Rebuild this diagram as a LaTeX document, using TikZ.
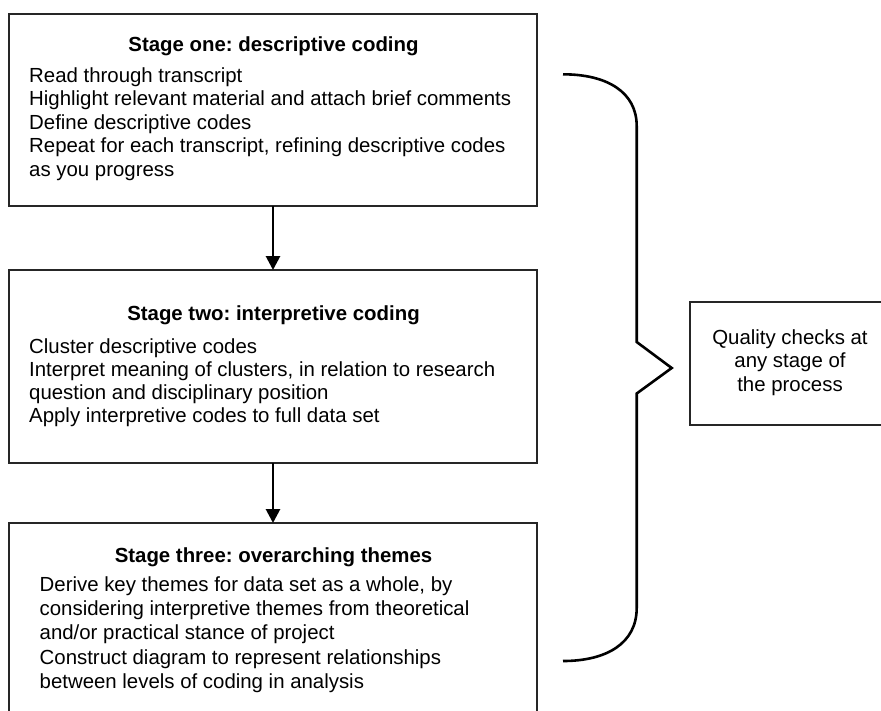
\documentclass[tikz,border=0pt]{standalone}
\usepackage{fontspec}
\setmainfont{Liberation Sans}
\usetikzlibrary{arrows.meta}
\frenchspacing
\begin{document}
\begin{tikzpicture}[x=1pt,y=-1pt,
  stagebox/.style={draw=black!85,line width=1.3pt,anchor=north west,inner sep=0,outer sep=0},
  ttl/.style={font=\fontsize{20.4}{24}\selectfont\bfseries,anchor=base,inner sep=0},
  txt/.style={font=\fontsize{20.4}{24}\selectfont,anchor=base west,inner sep=0},
  ctxt/.style={font=\fontsize{20.4}{24}\selectfont,anchor=base,inner sep=0},
  flow/.style={line width=2.8pt,-{Triangle[width=14pt,length=14pt]}},
  bracestyle/.style={line width=2.6pt,line join=miter}]
\useasboundingbox (0,0) rectangle (881,710);
\clip (0,0) rectangle (881,710);
% boxes
\node[stagebox,minimum width=528pt,minimum height=192pt] (s1) at (9,14) {};
\node[stagebox,minimum width=528pt,minimum height=193pt] (s2) at (9,270) {};
\node[stagebox,minimum width=528pt,minimum height=210pt] (s3) at (9,523) {};
\node[stagebox,minimum width=210pt,minimum height=123pt] (q) at (690,302) {};
% arrows
\draw[flow] (s1.south) -- (s2.north);
\draw[flow] (s2.south) -- (s3.north);
% stage one
\node[ttl] (t1) at (273.5,51) {Stage one: descriptive coding};
\node[txt] (a1) at (29,82) {Read through transcript};
\node[txt] (a2) at (29,105.5) {Highlight relevant material and attach brief comments};
\node[txt] (a3) at (29,129) {Define descriptive codes};
\node[txt] (a4) at (29,152.5) {Repeat for each transcript, refining descriptive codes};
\node[txt] (a5) at (29,176) {as you progress};
% stage two
\node[ttl] (t2) at (273.5,320) {Stage two: interpretive coding};
\node[txt] (b1) at (29,353.5) {Cluster descriptive codes};
\node[txt] (b2) at (29,376.7) {Interpret meaning of clusters, in relation to research};
\node[txt] (b3) at (29,399.6) {question and disciplinary position};
\node[txt] (b4) at (29,422.5) {Apply interpretive codes to full data set};
% stage three
\node[ttl] (t3) at (273.5,562) {Stage three: overarching themes};
\node[txt] (c1) at (39.5,591) {Derive key themes for data set as a whole, by};
\node[txt] (c2) at (39.5,615) {considering interpretive themes from theoretical};
\node[txt] (c3) at (39.5,639.5) {and/or practical stance of project};
\node[txt] (c4) at (39.5,664) {Construct diagram to represent relationships};
\node[txt] (c5) at (39.5,688) {between levels of coding in analysis};
% quality box text
\node[ctxt] (q1) at (790,344) {Quality checks at};
\node[ctxt] (q2) at (790,367.5) {any stage of};
\node[ctxt] (q3) at (790,391) {the process};
% brace
\coordinate (bt) at (563,74.3);
\coordinate (bb) at (563,661);
\coordinate (tip) at (671.7,368);
\draw[bracestyle] (bt) .. controls (607,74.3) and (636.7,92) .. (636.7,126)
  -- (636.7,342) -- (tip) -- (636.7,393.5) -- (636.7,608)
  .. controls (636.7,643) and (607,661) .. (bb);
\end{tikzpicture}
\end{document}
